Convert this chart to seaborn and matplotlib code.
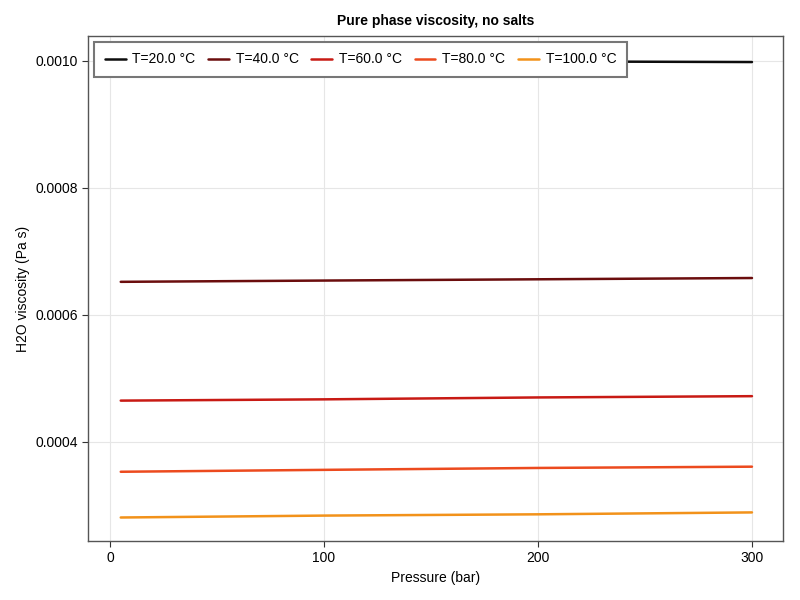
import numpy as np
import pandas as pd
import matplotlib
matplotlib.use("Agg")
import matplotlib.pyplot as plt
import seaborn as sns

# values
pressure = [5, 100, 200, 300]
temps = ["T=20.0 °C", "T=40.0 °C", "T=60.0 °C", "T=80.0 °C", "T=100.0 °C"]
visc_20 = [0.001002, 0.001001, 0.000999, 0.000998]
visc_40 = [0.000652, 0.000654, 0.000656, 0.000658]
visc_60 = [0.000465, 0.000467, 0.000470, 0.000472]
visc_80 = [0.000353, 0.000356, 0.000359, 0.000361]
visc_100 = [0.000281, 0.000284, 0.000286, 0.000289]
colors = ["#0d0d0d", "#6b0d0d", "#c81a14", "#ec4a1e", "#f2921a"]

rows = []
for t, vals in zip(temps, [visc_20, visc_40, visc_60, visc_80, visc_100]):
    for p, v in zip(pressure, vals):
        rows.append({"p": p, "visc": v, "T": t})
df = pd.DataFrame(rows)

sns.set_style("white")
plt.rcParams["font.family"] = ["Liberation Sans", "DejaVu Sans"]
plt.rcParams["text.color"] = "black"
plt.rcParams["axes.labelcolor"] = "black"

fig = plt.figure(figsize=(8, 6), dpi=100)
ax = fig.add_axes([88 / 800, 1 - 541 / 600, (783 - 88) / 800, (541 - 36) / 600])

sns.lineplot(data=df, x="p", y="visc", hue="T", hue_order=temps,
             palette=colors, linewidth=1.8, ax=ax)

ax.set_xlim(-10.3, 314.5)
ax.set_ylim(0.000244, 0.001039)
ax.set_xticks([0, 100, 200, 300])
ax.set_yticks([0.0004, 0.0006, 0.0008, 0.0010])
ax.set_yticklabels(["0.0004", "0.0006", "0.0008", "0.0010"])
ax.grid(True, color="#e6e6e6", linewidth=0.8)
ax.tick_params(axis="both", labelsize=10, length=4, width=0.8,
               direction="out", left=True, bottom=True, colors="#333333",
               labelcolor="black")
for s in ax.spines.values():
    s.set_color("#555555")
    s.set_linewidth(1.0)

ax.set_xlabel("Pressure (bar)", fontsize=10, color="black")
ax.set_ylabel("H2O viscosity (Pa s)", fontsize=10, color="black")
ax.set_title("Pure phase viscosity, no salts", fontsize=10, fontweight="bold",
             pad=8, color="black")

leg = ax.legend(loc="upper left", ncol=5, fontsize=10, frameon=True,
                fancybox=False, handlelength=1.5, handletextpad=0.5,
                columnspacing=0.9, borderpad=0.75, borderaxespad=0,
                bbox_to_anchor=(0.009, 0.988))
leg.get_frame().set_edgecolor("#777777")
leg.get_frame().set_linewidth(1.5)
leg.get_frame().set_alpha(1)
for txt in leg.get_texts():
    txt.set_color("black")

fig.savefig("out.png", dpi=100)
